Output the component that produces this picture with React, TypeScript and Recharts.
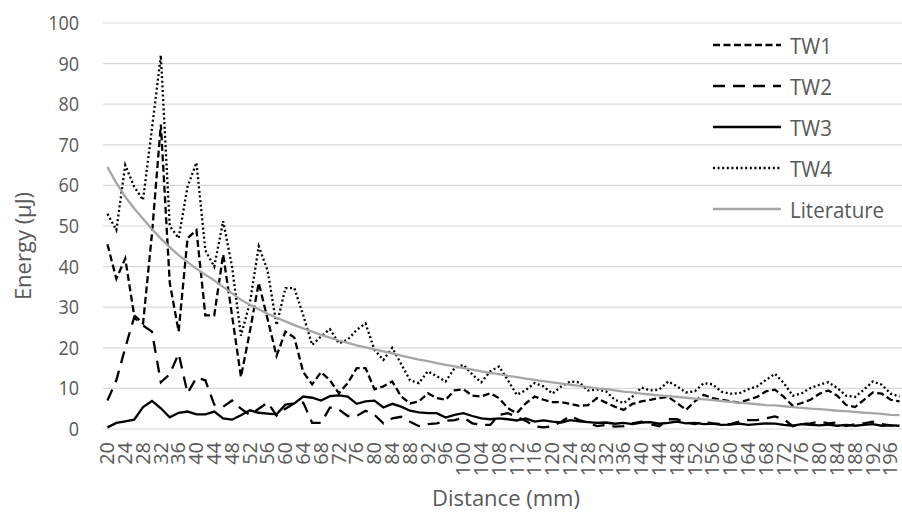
import React from "react";
import { LineChart, Line, XAxis, YAxis, CartesianGrid, Legend } from "recharts";

const distances = [
  20, 22, 24, 26, 28, 30, 32, 34, 36, 38,
  40, 42, 44, 46, 48, 50, 52, 54, 56, 58,
  60, 62, 64, 66, 68, 70, 72, 74, 76, 78,
  80, 82, 84, 86, 88, 90, 92, 94, 96, 98,
  100, 102, 104, 106, 108, 110, 112, 114, 116, 118,
  120, 122, 124, 126, 128, 130, 132, 134, 136, 138,
  140, 142, 144, 146, 148, 150, 152, 154, 156, 158,
  160, 162, 164, 166, 168, 170, 172, 174, 176, 178,
  180, 182, 184, 186, 188, 190, 192, 194, 196, 198,
];

const tw1 = [
  45.5, 37, 42, 28, 26, 48, 75, 36, 24, 47,
  49, 28, 28, 43, 28, 12.8, 24, 36, 27, 18,
  24, 22.5, 14, 11, 14, 12, 8.8, 11.3, 15, 15,
  9.8, 10.5, 11.7, 8, 6.3, 6.8, 8.8, 7.6, 7.2, 9.5,
  9.8, 8.2, 8, 8.8, 7.6, 5.1, 3.9, 6.3, 8, 7.2,
  6.6, 6.6, 6.2, 5.7, 5.9, 7.6, 6.5, 5.5, 4.7, 6.2,
  6.8, 7.2, 7.6, 7.9, 6.4, 4.7, 6.8, 8.4, 7.6, 7.2,
  6.8, 6.5, 7.2, 7.9, 9.3, 9.7, 7.9, 5.7, 6.4, 7.2,
  8.7, 9.5, 8.2, 5.9, 5.4, 7.2, 9, 8.7, 7.2, 6.8,
];

const tw2 = [
  7, 12, 20, 27.5, 25.5, 24, 11.5, 13.5, 18.6, 8.8,
  12.7, 12, 6, 5.5, 7, 5, 3.5, 5, 6.5, 3.3,
  5, 6.3, 6.5, 1.5, 1.5, 5.3, 4.8, 3.2, 3.2, 4.5,
  3.5, 1.4, 2.6, 3, 1.8, 0.7, 1.2, 1.4, 2, 2.2,
  2.8, 1.4, 1, 1, 3.5, 3.9, 3, 2, 0.7, 0.4,
  0.7, 1.8, 3.2, 2.2, 1.6, 0.7, 1, 0.6, 0.7, 1.4,
  1.8, 1.2, 0.7, 2.4, 2.4, 1.6, 1.2, 1.8, 1.4, 1.2,
  1.2, 1.8, 2.2, 2.2, 2.6, 3.1, 2.4, 0.7, 1.2, 1.4,
  1.8, 1.4, 1.6, 0.7, 1.2, 1.4, 1.8, 1.2, 0.9, 0.7,
];

const tw3 = [
  0.4, 1.5, 1.9, 2.3, 5.4, 6.9, 5.1, 2.9, 4, 4.3,
  3.6, 3.6, 4.3, 2.6, 2.3, 3.4, 4.6, 4, 3.8, 3.6,
  6, 6.3, 8, 7.7, 7, 8.1, 8.3, 8, 6.2, 6.8,
  7, 5.3, 6.2, 5.5, 4.5, 4.1, 3.9, 3.9, 2.8, 3.5,
  3.9, 3.2, 2.6, 2.4, 2.6, 2.4, 2.1, 2.6, 1.8, 2.1,
  1.8, 1.6, 2.2, 1.9, 1.7, 1.5, 1.6, 1.3, 1.5, 1.2,
  1.6, 1.7, 1.3, 1.5, 1.8, 1.4, 1.5, 1.2, 1.3, 1.0,
  1.1, 1.3, 1.0, 1.2, 1.4, 1.3, 1.0, 0.8, 1.2, 1.0,
  0.9, 1.1, 0.8, 1.0, 0.8, 1.0, 1.2, 0.8, 0.9, 0.8,
];

const tw4 = [
  53, 49, 65, 59.7, 56.4, 74, 92, 50, 47, 59.7,
  65.6, 44, 40, 51.2, 40, 23, 31, 45, 39, 25.6,
  34.7, 34.7, 28, 20.7, 22.8, 24.6, 21.1, 22, 24.4, 26,
  19.5, 17, 20, 16, 12, 11.3, 14.2, 13, 11.7, 15,
  15.8, 13.4, 11.5, 14.2, 15.4, 12, 8.4, 9.6, 11.3, 10.5,
  8.7, 10.5, 11.7, 11.5, 9.5, 9.7, 9.3, 7.2, 6.4, 8,
  10.2, 9.5, 9.7, 11.7, 10.5, 9, 9.3, 11.3, 11, 9.2,
  8.7, 8.8, 9.8, 10.5, 12.1, 13.6, 11.3, 8.2, 8.8, 10.1,
  10.9, 11.5, 10.1, 8.2, 7.9, 9.7, 11.7, 10.9, 8.7, 8,
];

const literature = [
  64.5, 60.6, 57.2, 54.3, 51.8, 49.2, 46.9, 44.8, 42.8, 41.1,
  39.5, 38.0, 36.6, 35.0, 33.4, 31.8, 30.6, 29.5, 28.4, 27.4,
  26.5, 25.6, 24.8, 24.0, 23.2, 22.5, 21.8, 21.2, 20.6, 20.1,
  19.6, 19.1, 18.6, 18.1, 17.6, 17.1, 16.7, 16.2, 15.8, 15.4,
  15.0, 14.6, 14.2, 13.8, 13.5, 13.1, 12.8, 12.4, 12.1, 11.8,
  11.5, 11.2, 10.9, 10.6, 10.3, 10.0, 9.8, 9.5, 9.2, 9.0,
  8.7, 8.5, 8.3, 8.1, 7.9, 7.7, 7.5, 7.3, 7.1, 6.9,
  6.7, 6.5, 6.3, 6.1, 5.9, 5.8, 5.6, 5.4, 5.2, 5.0,
  4.9, 4.7, 4.5, 4.4, 4.2, 4.0, 3.9, 3.7, 3.5, 3.4,
];

const yTicks = [0, 10, 20, 30, 40, 50, 60, 70, 80, 90, 100];

const data = distances.map((d, i) => ({
  d,
  TW1: tw1[i],
  TW2: tw2[i],
  TW3: tw3[i],
  TW4: tw4[i],
  Literature: literature[i],
}));

const FONT = '"Open Sans", sans-serif';
const TEXT = "#595959";

const series = [
  { key: "TW1", color: "#000000", dash: "7 3.5", width: 2.3 },
  { key: "TW2", color: "#000000", dash: "12 8", width: 2.3 },
  { key: "TW3", color: "#000000", dash: undefined, width: 2.3 },
  { key: "TW4", color: "#000000", dash: "2 2.6", width: 2.3 },
  { key: "Literature", color: "#A6A6A6", dash: undefined, width: 2.3 },
];

const YTick = (props: any) => (
  <text
    x={0}
    y={0}
    transform={`translate(79, ${props.y}) scale(0.9, 1)`}
    textAnchor="end"
    dy="0.35em"
    fontFamily={FONT}
    fontSize={20}
    fill={TEXT}
  >
    {props.payload.value}
  </text>
);

const XTick = (props: any) => (
  <text
    x={0}
    y={0}
    transform={`translate(${props.x}, 442) scale(0.92, 0.95) rotate(-90)`}
    textAnchor="end"
    dy="0.35em"
    fontFamily={FONT}
    fontSize={21}
    fill={TEXT}
  >
    {props.payload.value}
  </text>
);

const LegendBox = () => (
  <div style={{ width: 190 }}>
    {series.map((s) => (
      <div key={s.key} style={{ height: 41, display: "flex", alignItems: "center" }}>
        <svg width={68} height={10} style={{ display: "block" }}>
          <line x1={0} y1={5} x2={68} y2={5} stroke={s.color} strokeWidth={s.width} strokeDasharray={s.dash} />
        </svg>
        <span
          style={{
            marginLeft: 9,
            fontFamily: FONT,
            fontSize: 22,
            lineHeight: 1,
            color: TEXT,
            display: "inline-block",
            transform: "scaleX(0.93)",
            transformOrigin: "left center",
          }}
        >
          {s.key}
        </span>
      </div>
    ))}
  </div>
);

export default function App() {
  return (
    <div style={{ position: "absolute", left: 0, top: 0, width: 902, height: 519, overflow: "hidden", background: "#fff" }}>
      <LineChart width={904} height={519} data={data} margin={{ top: 23, right: 0, bottom: 0, left: 0 }}>
        <CartesianGrid vertical={false} stroke="#D9D9D9" strokeWidth={1.2} />
        <XAxis
          dataKey="d"
          interval={1}
          height={90}
          axisLine={false}
          tickLine={false}
          padding={{ left: 4.45, right: 4.45 }}
          tick={(p: any) => <XTick {...p} />}
        />
        <YAxis
          width={103}
          domain={[0, 100]}
          ticks={yTicks}
          axisLine={false}
          tickLine={false}
          tick={(p: any) => <YTick {...p} />}
        />
        {series.map((s) => (
          <Line
            key={s.key}
            type="linear"
            dataKey={s.key}
            name={s.key}
            stroke={s.color}
            strokeWidth={s.width}
            strokeDasharray={s.dash}
            dot={false}
            activeDot={false}
            isAnimationActive={false}
          />
        ))}
        <Legend
          layout="horizontal"
          verticalAlign="middle"
          align="center"
          width={190}
          wrapperStyle={{ left: 713, top: 24.5, width: 190 }}
          content={() => <LegendBox />}
        />
      </LineChart>
      <div
        style={{
          position: "absolute",
          left: 506,
          top: 497,
          transform: "translate(-50%, -50%)",
          fontFamily: FONT,
          fontSize: 22,
          color: TEXT,
          whiteSpace: "nowrap",
          lineHeight: 1,
        }}
      >
        Distance (mm)
      </div>
      <div
        style={{
          position: "absolute",
          left: 22,
          top: 246,
          transform: "translate(-50%, -50%) rotate(-90deg)",
          fontFamily: FONT,
          fontSize: 22,
          color: TEXT,
          whiteSpace: "nowrap",
          lineHeight: 1,
        }}
      >
        Energy (µJ)
      </div>
    </div>
  );
}
